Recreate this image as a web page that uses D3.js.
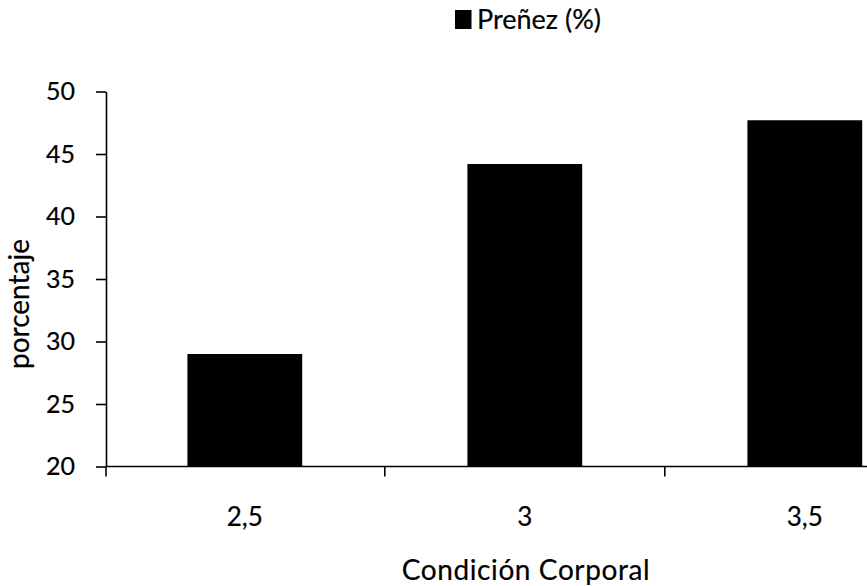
<!DOCTYPE html>
<html>
<head>
<meta charset="utf-8">
<script src="https://cdn.jsdelivr.net/npm/d3@7"></script>
<style>
  html, body { margin: 0; padding: 0; background: #fff; }
  svg { display: block; font-family: Lato, "Open Sans", sans-serif; }
  text { fill: #000; stroke: #000; stroke-width: 0.2px; }
</style>
</head>
<body>
<svg id="chart" width="867" height="586"></svg>
<script>
// Pregnancy rate by body condition score
const categories = ["2,5", "3", "3,5"];
const prenez = [29, 44.2, 47.7];
const yTicks = [20, 25, 30, 35, 40, 45, 50];
const seriesName = "Preñez (%)";
const xTitle = "Condición Corporal";
const yTitle = "porcentaje";

const svg = d3.select("#chart");
const plotLeft = 106, plotTop = 91.5, plotBottom = 466.5;
const bandStart = 104.8, bandW = 280;

const x = d3.scaleBand()
  .domain(categories)
  .range([bandStart, bandStart + bandW * categories.length])
  .paddingInner(0.59)
  .paddingOuter(0.295);

const y = d3.scaleLinear().domain([20, 50]).range([plotBottom, plotTop]);

// bars
svg.append("g")
  .selectAll("rect")
  .data(categories)
  .join("rect")
  .attr("x", d => x(d))
  .attr("width", x.bandwidth())
  .attr("y", (d, i) => y(prenez[i]))
  .attr("height", (d, i) => y(20) - y(prenez[i]))
  .attr("fill", "#000");

// y axis
const yAxis = svg.append("g")
  .attr("transform", `translate(${plotLeft},0)`)
  .call(d3.axisLeft(y).tickValues(yTicks).tickSize(10).tickPadding(21).tickSizeOuter(0));
yAxis.select(".domain").attr("stroke", "#000").attr("stroke-width", 1.6);
yAxis.selectAll(".tick line").attr("stroke", "#000").attr("stroke-width", 1.6);
yAxis.selectAll(".tick text")
  .attr("font-size", 25)
  .style("font-family", "Lato, sans-serif");

// x axis with ticks at band boundaries
const xAxis = svg.append("g").attr("transform", `translate(0,${plotBottom})`);
xAxis.append("line")
  .attr("x1", plotLeft).attr("x2", bandStart + bandW * categories.length)
  .attr("stroke", "#000").attr("stroke-width", 1.6);
const boundaries = d3.range(categories.length + 1)
  .map(i => i === 0 ? plotLeft : bandStart + i * bandW);
xAxis.selectAll("line.tk")
  .data(boundaries)
  .join("line")
  .attr("class", "tk")
  .attr("x1", d => d).attr("x2", d => d)
  .attr("y1", 0).attr("y2", 10)
  .attr("stroke", "#000").attr("stroke-width", 1.6);
xAxis.selectAll("text")
  .data(categories)
  .join("text")
  .attr("x", d => x(d) + x.bandwidth() / 2)
  .attr("y", 59.5)
  .attr("text-anchor", "middle")
  .attr("font-size", 26)
  .text(d => d);

// axis titles
svg.append("text")
  .attr("x", 526).attr("y", 580)
  .attr("text-anchor", "middle")
  .attr("font-size", 28)
  .attr("letter-spacing", 0.6)
  .text(xTitle);

svg.append("text")
  .attr("transform", "translate(29,304) rotate(-90)")
  .attr("text-anchor", "middle")
  .attr("font-size", 28)
  .text(yTitle);

// legend
const lg = svg.append("g");
lg.append("rect")
  .attr("x", 455).attr("y", 10).attr("width", 16.5).attr("height", 19)
  .attr("fill", "#000");
lg.append("text")
  .attr("x", 477).attr("y", 29)
  .attr("font-size", 27)
  .text(seriesName);
</script>
</body>
</html>
